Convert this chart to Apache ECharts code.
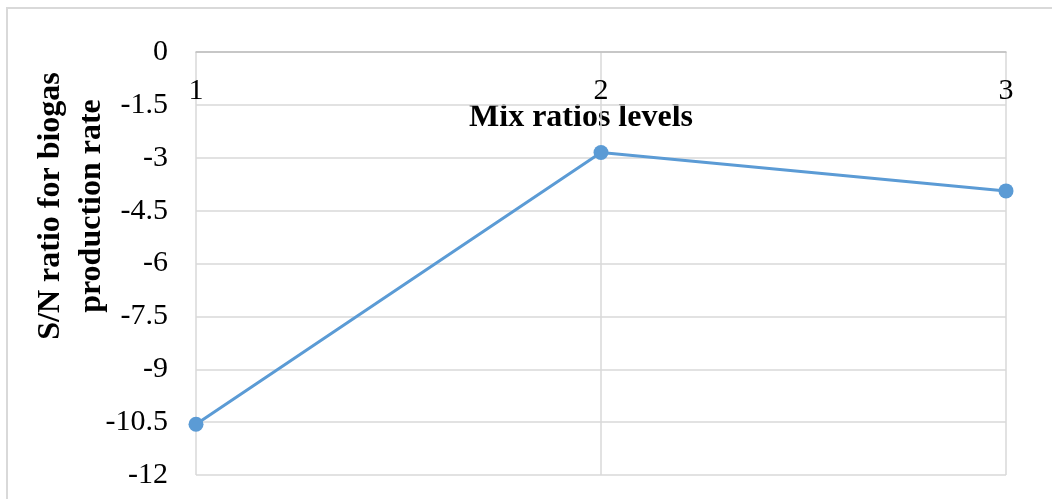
<!DOCTYPE html>
<html>
<head>
<meta charset="utf-8">
<script src="https://cdn.jsdelivr.net/npm/echarts@6/dist/echarts.min.js"></script>
<style>
html,body{margin:0;padding:0;background:#fff;}
#c{width:1052px;height:499px;}
</style>
</head>
<body>
<div id="c"></div>
<script>
var categories = ['1', '2', '3'];
var snValues = [-10.56, -2.85, -3.94];
var yMin = -12, yMax = 0, yStep = 1.5;
var xTitle = 'Mix ratios levels';
var yTitle = 'S/N ratio for biogas\nproduction rate';

var font = '"Liberation Serif", "Times New Roman", serif';
var chart = echarts.init(document.getElementById('c'), null, {renderer: 'canvas'});
chart.setOption({
  animation: false,
  backgroundColor: '#ffffff',
  grid: {left: 196, right: 46, top: 52, bottom: 24, containLabel: false},
  xAxis: {
    type: 'category',
    data: categories,
    position: 'top',
    boundaryGap: false,
    axisLine: {show: true, lineStyle: {color: '#bfbfbf', width: 1.5}},
    axisTick: {show: false},
    axisLabel: {inside: true, margin: 24, color: '#000', fontFamily: font, fontSize: 30},
    splitLine: {show: true, lineStyle: {color: '#d9d9d9', width: 1.5}}
  },
  yAxis: {
    type: 'value',
    min: yMin, max: yMax, interval: yStep,
    axisLine: {show: false},
    axisTick: {show: false},
    axisLabel: {margin: 28, color: '#000', fontFamily: font, fontSize: 30},
    splitLine: {show: true, lineStyle: {color: '#d9d9d9', width: 1.5}}
  },
  series: [{
    type: 'line',
    data: snValues,
    symbol: 'circle',
    symbolSize: 15,
    lineStyle: {color: '#5b9bd5', width: 3},
    itemStyle: {color: '#5b9bd5'}
  }],
  graphic: [
    {type: 'rect', shape: {x: 7, y: 8, width: 1100, height: 560}, style: {fill: 'none', stroke: '#d9d9d9', lineWidth: 2}, silent: true, z: -1},
    {type: 'text', x: 581, y: 118, style: {text: xTitle, font: 'bold 32px ' + font, fill: '#000', textAlign: 'center', textVerticalAlign: 'middle'}},
    {type: 'text', x: 71, y: 206, rotation: Math.PI / 2, style: {text: yTitle, font: 'bold 32px ' + font, fill: '#000', textAlign: 'center', textVerticalAlign: 'middle', lineHeight: 41}}
  ]
});
</script>
</body>
</html>
